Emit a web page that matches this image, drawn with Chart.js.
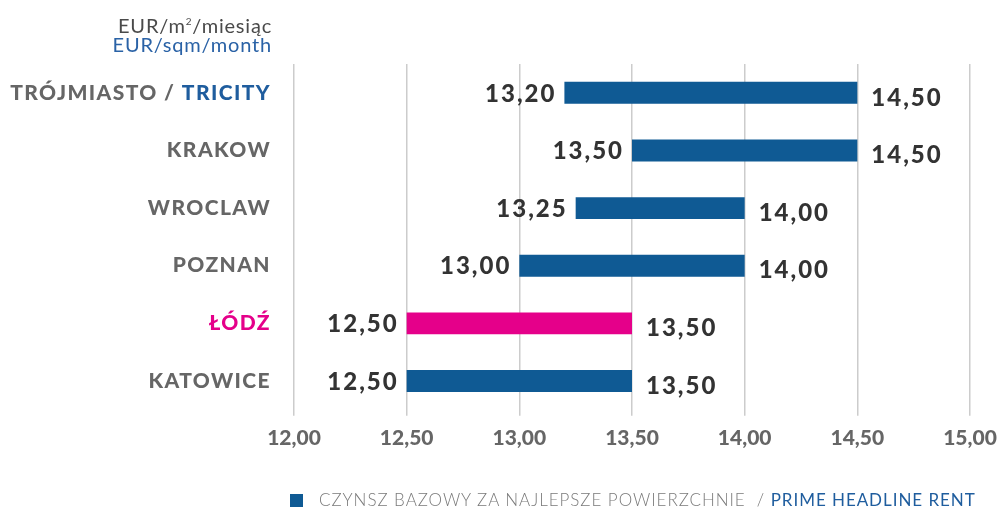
<!DOCTYPE html>
<html>
<head>
<meta charset="utf-8">
<script src="https://cdn.jsdelivr.net/npm/chart.js@4"></script>
<style>
  html, body { margin: 0; padding: 0; background: #fff; }
  #wrap { position: relative; width: 1002px; height: 512px; font-family: Lato, "Open Sans", sans-serif; }
  #chart { position: absolute; left: 0; top: 0; }
  .unit { position: absolute; right: 730px; text-align: right; font-size: 20px; line-height: 22px; letter-spacing: 0.8px; font-weight: 400; }
  #unitPl { top: 10px; color: #4a4a4a; }
  #unitEn { top: 33px; color: #2a62a6; }
  #legend { position: absolute; left: 290px; top: 489px; font-size: 17px; letter-spacing: 0.95px; color: #7a7a7a; white-space: nowrap; font-weight: 300; }
  #legend .sw { display: inline-block; width: 13px; height: 13px; background: #0f5a94; vertical-align: -1px; margin-right: 16px; }
  #legend .en { color: #1f5d9e; font-weight: 400; }
</style>
</head>
<body>
<div id="wrap">
  <canvas id="chart" width="1002" height="512"></canvas>
  <div class="unit" id="unitPl">EUR/m<sup style="font-size:10px">2</sup>/miesiąc</div>
  <div class="unit" id="unitEn">EUR/sqm/month</div>
  <div id="legend"><span class="sw"></span>CZYNSZ BAZOWY ZA NAJLEPSZE POWIERZCHNIE &nbsp;/ <span class="en">PRIME HEADLINE RENT</span></div>
</div>
<script>
(function () {
    'use strict';

    // ── Data ─────────────────────────────────────────────────────────
    var cities  = ['TRÓJMIASTO / TRICITY', 'KRAKOW', 'WROCLAW', 'POZNAN', 'ŁÓDŹ', 'KATOWICE'];
    var minRent = [13.20, 13.50, 13.25, 13.00, 12.50, 12.50];
    var maxRent = [14.50, 14.50, 14.00, 14.00, 13.50, 13.50];
    var xTicks  = [12.00, 12.50, 13.00, 13.50, 14.00, 14.50, 15.00];

    var BLUE = '#0f5a94';
    var PINK = '#e5008a';
    var GREY = '#666666';
    var DARK = '#333333';
    var FONT = 'Lato, "Open Sans", sans-serif';

    function fmt(n) { return n.toFixed(2).replace('.', ','); }

    // ── Category labels (two-colour for Tricity) ─────────────────────
    var cityLabels = {
        id: 'cityLabels',
        afterDraw: function (chart) {
            var ctx = chart.ctx;
            var y = chart.scales.y;
            var right = 271;
            ctx.save();
            ctx.font = '900 21px ' + FONT;
            ctx.letterSpacing = '1.4px';
            ctx.textBaseline = 'middle';
            ctx.textAlign = 'left';
            cities.forEach(function (name, i) {
                var py = y.getPixelForValue(i);
                var parts;
                if (name.indexOf(' / ') > -1) {
                    var p = name.split(' / ');
                    parts = [[p[0] + ' / ', GREY], [p[1], '#1f5d9e']];
                } else {
                    parts = [[name, name === 'ŁÓDŹ' ? PINK : GREY]];
                }
                var w = parts.reduce(function (s, t) { return s + ctx.measureText(t[0]).width; }, 0);
                var x = right - w;
                parts.forEach(function (t) {
                    ctx.fillStyle = t[1];
                    ctx.fillText(t[0], x, py);
                    x += ctx.measureText(t[0]).width;
                });
            });
            ctx.restore();
        }
    };

    // ── Value labels at both bar ends ────────────────────────────────
    var valueLabels = {
        id: 'valueLabels',
        afterDatasetsDraw: function (chart) {
            var ctx = chart.ctx;
            var x = chart.scales.x;
            var y = chart.scales.y;
            ctx.save();
            ctx.font = '900 24px ' + FONT;
            ctx.letterSpacing = '2px';
            ctx.fillStyle = DARK;
            ctx.textBaseline = 'middle';
            cities.forEach(function (c, i) {
                var py = y.getPixelForValue(i);
                ctx.textAlign = 'right';
                ctx.fillText(fmt(minRent[i]), x.getPixelForValue(minRent[i]) - 8, py + 1);
                ctx.textAlign = 'left';
                ctx.fillText(fmt(maxRent[i]), x.getPixelForValue(maxRent[i]) + 14, py + 5);
            });
            ctx.restore();
        }
    };

    new Chart(document.getElementById('chart'), {
        type: 'bar',
        data: {
            labels: cities,
            datasets: [{
                data: cities.map(function (c, i) { return [minRent[i], maxRent[i]]; }),
                backgroundColor: cities.map(function (c) { return c === 'ŁÓDŹ' ? PINK : BLUE; }),
                borderWidth: 0,
                borderSkipped: false,
                barPercentage: 0.38,
                categoryPercentage: 1.0
            }]
        },
        options: {
            indexAxis: 'y',
            responsive: false,
            animation: false,
            layout: { padding: { left: 294, right: 0, top: 64, bottom: 51 } },
            plugins: {
                legend: { display: false },
                tooltip: { enabled: false }
            },
            scales: {
                x: {
                    min: 12, max: 15,
                    afterBuildTicks: function (axis) {
                        axis.ticks = xTicks.map(function (v) { return { value: v }; });
                    },
                    afterFit: function (axis) {
                        // keep 15,00 gridline where the original puts it
                        axis.paddingRight = 32;
                    },
                    grid: {
                        color: '#cccccc',
                        lineWidth: 1.5,
                        tickLength: 6,
                        drawOnChartArea: true
                    },
                    border: { display: false },
                    ticks: {
                        color: GREY,
                        padding: 10,
                        font: { family: FONT, size: 21, weight: '900' },
                        callback: function (v) { return fmt(v); }
                    }
                },
                y: {
                    display: false
                }
            }
        },
        plugins: [cityLabels, valueLabels]
    });
})();
</script>
</body>
</html>
